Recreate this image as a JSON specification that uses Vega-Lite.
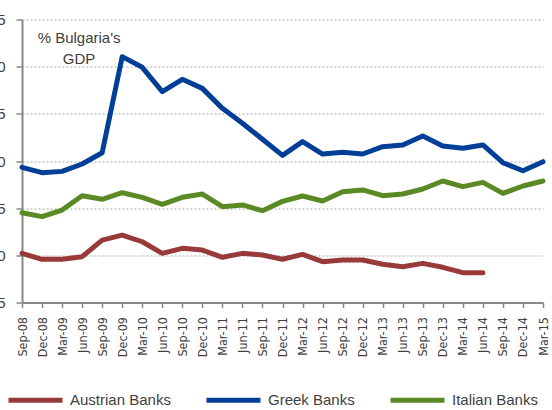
{
  "$schema": "https://vega.github.io/schema/vega-lite/v6.json",
  "autosize": {"type": "none"},
  "width": 521,
  "height": 283,
  "padding": {"left": 22, "top": 19.5, "right": 9, "bottom": 107.5},
  "background": "white",
  "config": {
    "view": {"stroke": null},
    "font": "Liberation Sans"
  },
  "layer": [
    {
      "data": {
        "values": [
          {"q":"Sep-08","s":"Austrian Banks","v":10.21},{"q":"Dec-08","s":"Austrian Banks","v":9.58},{"q":"Mar-09","s":"Austrian Banks","v":9.58},{"q":"Jun-09","s":"Austrian Banks","v":9.86},{"q":"Sep-09","s":"Austrian Banks","v":11.62},{"q":"Dec-09","s":"Austrian Banks","v":12.15},{"q":"Mar-10","s":"Austrian Banks","v":11.44},{"q":"Jun-10","s":"Austrian Banks","v":10.21},{"q":"Sep-10","s":"Austrian Banks","v":10.74},{"q":"Dec-10","s":"Austrian Banks","v":10.56},{"q":"Mar-11","s":"Austrian Banks","v":9.79},{"q":"Jun-11","s":"Austrian Banks","v":10.21},{"q":"Sep-11","s":"Austrian Banks","v":10.03},{"q":"Dec-11","s":"Austrian Banks","v":9.58},{"q":"Mar-12","s":"Austrian Banks","v":10.1},{"q":"Jun-12","s":"Austrian Banks","v":9.33},{"q":"Sep-12","s":"Austrian Banks","v":9.5},{"q":"Dec-12","s":"Austrian Banks","v":9.5},{"q":"Mar-13","s":"Austrian Banks","v":9.05},{"q":"Jun-13","s":"Austrian Banks","v":8.79},{"q":"Sep-13","s":"Austrian Banks","v":9.15},{"q":"Dec-13","s":"Austrian Banks","v":8.73},{"q":"Mar-14","s":"Austrian Banks","v":8.16},{"q":"Jun-14","s":"Austrian Banks","v":8.16},
          {"q":"Sep-08","s":"Greek Banks","v":19.33},{"q":"Dec-08","s":"Greek Banks","v":18.76},{"q":"Mar-09","s":"Greek Banks","v":18.9},{"q":"Jun-09","s":"Greek Banks","v":19.68},{"q":"Sep-09","s":"Greek Banks","v":20.88},{"q":"Dec-09","s":"Greek Banks","v":31.06},{"q":"Mar-10","s":"Greek Banks","v":29.93},{"q":"Jun-10","s":"Greek Banks","v":27.35},{"q":"Sep-10","s":"Greek Banks","v":28.66},{"q":"Dec-10","s":"Greek Banks","v":27.7},{"q":"Mar-11","s":"Greek Banks","v":25.58},{"q":"Jun-11","s":"Greek Banks","v":24.0},{"q":"Sep-11","s":"Greek Banks","v":22.3},{"q":"Dec-11","s":"Greek Banks","v":20.6},{"q":"Mar-12","s":"Greek Banks","v":22.05},{"q":"Jun-12","s":"Greek Banks","v":20.74},{"q":"Sep-12","s":"Greek Banks","v":20.92},{"q":"Dec-12","s":"Greek Banks","v":20.74},{"q":"Mar-13","s":"Greek Banks","v":21.52},{"q":"Jun-13","s":"Greek Banks","v":21.7},{"q":"Sep-13","s":"Greek Banks","v":22.65},{"q":"Dec-13","s":"Greek Banks","v":21.59},{"q":"Mar-14","s":"Greek Banks","v":21.35},{"q":"Jun-14","s":"Greek Banks","v":21.7},{"q":"Sep-14","s":"Greek Banks","v":19.82},{"q":"Dec-14","s":"Greek Banks","v":18.97},{"q":"Mar-15","s":"Greek Banks","v":19.93},
          {"q":"Sep-08","s":"Italian Banks","v":14.52},{"q":"Dec-08","s":"Italian Banks","v":14.1},{"q":"Mar-09","s":"Italian Banks","v":14.8},{"q":"Jun-09","s":"Italian Banks","v":16.32},{"q":"Sep-09","s":"Italian Banks","v":15.94},{"q":"Dec-09","s":"Italian Banks","v":16.64},{"q":"Mar-10","s":"Italian Banks","v":16.15},{"q":"Jun-10","s":"Italian Banks","v":15.41},{"q":"Sep-10","s":"Italian Banks","v":16.15},{"q":"Dec-10","s":"Italian Banks","v":16.5},{"q":"Mar-11","s":"Italian Banks","v":15.16},{"q":"Jun-11","s":"Italian Banks","v":15.34},{"q":"Sep-11","s":"Italian Banks","v":14.73},{"q":"Dec-11","s":"Italian Banks","v":15.72},{"q":"Mar-12","s":"Italian Banks","v":16.29},{"q":"Jun-12","s":"Italian Banks","v":15.76},{"q":"Sep-12","s":"Italian Banks","v":16.75},{"q":"Dec-12","s":"Italian Banks","v":16.93},{"q":"Mar-13","s":"Italian Banks","v":16.32},{"q":"Jun-13","s":"Italian Banks","v":16.5},{"q":"Sep-13","s":"Italian Banks","v":17.03},{"q":"Dec-13","s":"Italian Banks","v":17.88},{"q":"Mar-14","s":"Italian Banks","v":17.28},{"q":"Jun-14","s":"Italian Banks","v":17.74},{"q":"Sep-14","s":"Italian Banks","v":16.57},{"q":"Dec-14","s":"Italian Banks","v":17.35},{"q":"Mar-15","s":"Italian Banks","v":17.88}
        ]
      },
      "mark": {"type": "line", "strokeWidth": 5, "strokeJoin": "round", "strokeCap": "round"},
      "encoding": {
        "x": {
          "field": "q", "type": "ordinal", "sort": null,
          "scale": {"type": "point", "padding": 0},
          "axis": {
            "title": null, "labelAngle": -90, "labelAlign": "right", "labelBaseline": "middle",
            "labelFont": "DejaVu Sans Condensed, Liberation Sans", "labelFontSize": 12.5, "labelColor": "#404040",
            "labelPadding": 9, "tickSize": 5, "tickColor": "#888888", "tickWidth": 1.5,
            "domainColor": "#888888", "domainWidth": 2, "grid": false, "labelOverlap": false
          }
        },
        "y": {
          "field": "v", "type": "quantitative",
          "scale": {"domain": [5, 35], "nice": false, "zero": false},
          "axis": {
            "title": null, "values": [5, 10, 15, 20, 25, 30, 35],
            "labelFontSize": 15, "labelColor": "#404040", "labelPadding": 11,
            "tickSize": 6, "tickColor": "#888888", "tickWidth": 1.5,
            "domainColor": "#888888", "domainWidth": 2,
            "grid": true, "gridColor": "#c4c4c4", "gridDash": [2, 2], "gridWidth": 1.5
          }
        },
        "color": {
          "field": "s", "type": "nominal",
          "scale": {"domain": ["Austrian Banks", "Greek Banks", "Italian Banks"], "range": ["#98393a", "#003f98", "#5b8a24"]},
          "legend": {
            "title": null, "orient": "none", "direction": "horizontal", "legendX": -16, "legendY": 351,
            "symbolType": "stroke", "symbolSize": 2916, "symbolStrokeWidth": 5,
            "labelFontSize": 15, "labelColor": "#404040", "labelOffset": 5, "columnPadding": 25
          }
        }
      }
    },
    {
      "data": {"values": [{"q": "Jun-09", "v": 33.0, "label": "% Bulgaria's"}, {"q": "Jun-09", "v": 30.8, "label": "GDP"}]},
      "mark": {"type": "text", "fontSize": 15, "color": "#404040", "align": "center", "baseline": "middle", "dx": -3},
      "encoding": {
        "x": {"field": "q", "type": "ordinal", "sort": null},
        "y": {"field": "v", "type": "quantitative"},
        "text": {"field": "label"}
      }
    }
  ]
}
